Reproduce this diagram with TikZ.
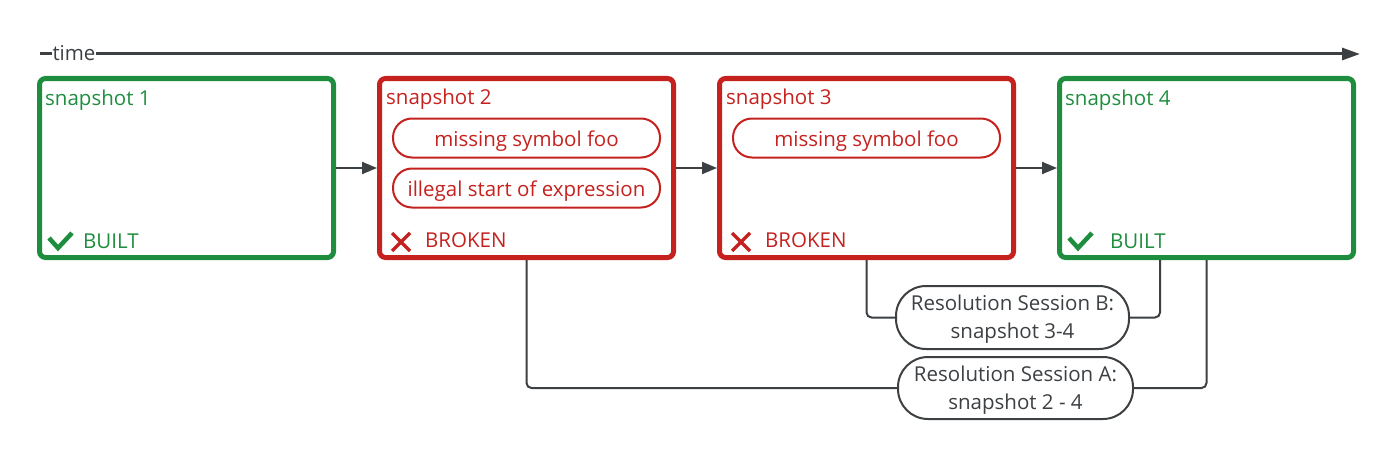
\documentclass[tikz,border=0pt]{standalone}
\usepackage{fontspec}
\setmainfont{Open Sans}
\usetikzlibrary{arrows.meta}
\definecolor{gg}{HTML}{1E8E3E}
\definecolor{gr}{HTML}{C5221F}
\definecolor{gd}{HTML}{3C4043}
\begin{document}
\begin{tikzpicture}[x=1pt,y=-1pt,
  txt/.style={font=\fontsize{20.5pt}{28pt}\selectfont},
  snapbox/.style={draw, line width=5pt, rounded corners=6pt, minimum width=294pt, minimum height=179pt, inner sep=0pt},
  okbox/.style={snapbox, draw=gg},
  badbox/.style={snapbox, draw=gr},
  lbl/.style={txt, anchor=base west, inner sep=0pt},
  errpill/.style={txt, draw=gr, text=gr, line width=2pt, rounded corners=19pt, minimum width=267pt, minimum height=39pt, inner sep=0pt, text height=17pt, text depth=0pt},
  sesspill/.style={txt, draw=gd, text=gd, line width=2pt, rounded corners=30pt, align=center, inner sep=0pt, text height=42pt, text depth=0pt},
  flow/.style={draw=gd, line width=2pt, -{Triangle[length=15pt,width=12pt]}},
  conn/.style={draw=gd, line width=2pt, rounded corners=5pt},
  chk/.style={draw=gg, line width=4.5pt},
  crs/.style={draw=gr, line width=3.5pt}]
\useasboundingbox (0,0) rectangle (1400,460);
% time axis
\coordinate (t0) at (40,54);
\coordinate (t1) at (1360,54);
\draw[draw=gd, line width=3pt, -{Triangle[length=18pt,width=12pt]}] (t0) -- (t1);
\node[txt, text=gd, fill=white, inner sep=1pt, anchor=base] (time) at (74,61) {time};
% boxes
\node[okbox]  (s1) at (186.5,168) {};
\node[badbox] (s2) at (526.5,168) {};
\node[badbox] (s3) at (866.5,168) {};
\node[okbox]  (s4) at (1206.5,168) {};
% titles
\node[lbl, text=gg] (l1) at ([shift={(-141.5,-63)}]s1.center) {snapshot 1};
\node[lbl, text=gr] (l2) at ([shift={(-140.5,-64)}]s2.center) {snapshot 2};
\node[lbl, text=gr] (l3) at ([shift={(-140.5,-64)}]s3.center) {snapshot 3};
\node[lbl, text=gg] (l4) at ([shift={(-141.5,-63)}]s4.center) {snapshot 4};
% status
\draw[chk] ([shift={(-137.5,70)}]s1.center) -- ++(9,10) -- ++(14,-15);
\node[lbl, text=gg] (b1) at ([shift={(-103.5,80)}]s1.center) {BUILT};
\draw[crs] ([shift={(-134.5,65)}]s2.center) -- ++(18,18);
\draw[crs] ([shift={(-116.5,65)}]s2.center) -- ++(-18,18);
\node[lbl, text=gr] (b2) at ([shift={(-101.5,79)}]s2.center) {BROKEN};
\draw[crs] ([shift={(-134.5,65)}]s3.center) -- ++(18,18);
\draw[crs] ([shift={(-116.5,65)}]s3.center) -- ++(-18,18);
\node[lbl, text=gr] (b3) at ([shift={(-101.5,79)}]s3.center) {BROKEN};
\draw[chk] ([shift={(-137.5,70)}]s4.center) -- ++(9,10) -- ++(14,-15);
\node[lbl, text=gg] (b4) at ([shift={(-96.5,80)}]s4.center) {BUILT};
% error pills
\node[errpill] (e21) at (526.5,138) {missing symbol foo};
\node[errpill] (e22) at (526.5,188) {illegal start of expression};
\node[errpill] (e31) at (866.5,138) {missing symbol foo};
% flow arrows
\draw[flow] (s1.east) -- (s2.west);
\draw[flow] (s2.east) -- (s3.west);
\draw[flow] (s3.east) -- (s4.west);
% sessions
\node[sesspill, minimum width=233pt, minimum height=63pt] (sB) at (1012.5,317.5) {Resolution Session B:\\snapshot 3-4};
\node[sesspill, minimum width=235pt, minimum height=62pt] (sA) at (1015.5,388) {Resolution Session A:\\snapshot 2 - 4};
\coordinate (bR) at ([xshift=-46.5pt]s4.south);
\draw[conn] (s3.south) |- (sB.west);
\draw[conn] (sB.east) -| (bR);
\draw[conn] (s2.south) |- (sA.west);
\draw[conn] (sA.east) -| (s4.south);
\end{tikzpicture}
\end{document}
